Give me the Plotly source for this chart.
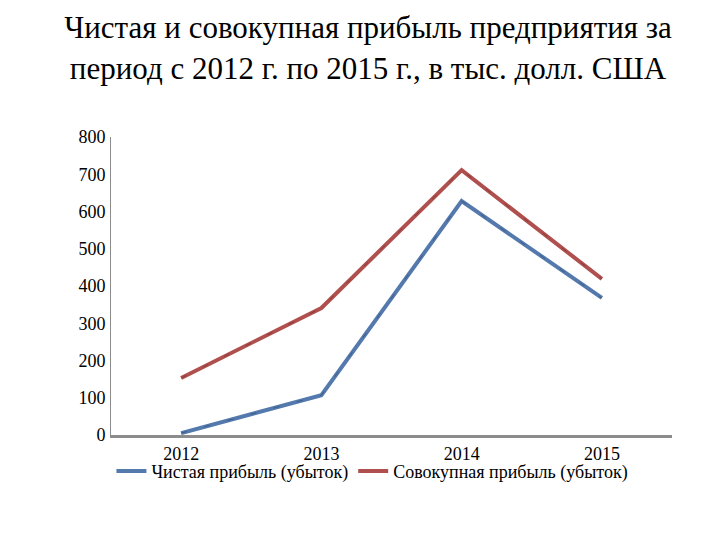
import plotly.graph_objects as go

years = ['2012', '2013', '2014', '2015']
net_profit = [5, 107, 628, 368]
total_profit = [153, 341, 711, 419]
y_ticks = [0, 100, 200, 300, 400, 500, 600, 700, 800]

FONT = 'Liberation Serif'
BLUE = '#5479ad'
RED = '#b0504e'

fig = go.Figure()

series = [
    ('Чистая прибыль (убыток)', net_profit, BLUE, '#2f4a70'),
    ('Совокупная прибыль (убыток)', total_profit, RED, '#6e2c2b'),
]
for name, vals, col, dark in series:
    fig.add_trace(go.Scatter(
        x=years, y=vals, name=name, mode='lines',
        line=dict(color=col, width=4)
    ))
    # thin dark dashes on top, like the shadowed Excel line
    fig.add_trace(go.Scatter(
        x=years, y=vals, mode='lines', showlegend=False, hoverinfo='skip',
        line=dict(color=dark, width=1, dash='6px,18px'), opacity=0.6
    ))

fig.update_layout(
    width=720, height=540,
    paper_bgcolor='white', plot_bgcolor='white',
    margin=dict(l=103, r=56, t=129, b=113),
    font=dict(family=FONT, size=18, color='black'),
    title=dict(
        text='Чистая и совокупная прибыль предприятия за<br>период с 2012 г. по 2015 г., в тыс. долл. США',
        x=0.5, xanchor='center', y=0.944, yanchor='top',
        font=dict(family=FONT, size=31, color='black')
    ),
    showlegend=True,
    legend=dict(
        orientation='h', x=0.466, xanchor='center', y=-0.06, yanchor='top',
        bgcolor='rgba(0,0,0,0)',
        font=dict(family=FONT, size=18, color='black'), itemwidth=30, tracegroupgap=0
    ),
    xaxis=dict(
        type='category', range=[-0.5, 3.5], showgrid=False,
        showline=True, linecolor='#8c8c8c', linewidth=3,
        ticks='', tickfont=dict(family=FONT, size=18, color='black')
    ),
    yaxis=dict(
        range=[0, 800], tickvals=y_ticks, showgrid=False, zeroline=False,
        showline=True, linecolor='#8c8c8c', linewidth=1,
        ticks='', tickfont=dict(family=FONT, size=18, color='black'),
        ticklabelstandoff=1
    ),
)

fig.write_html('out.html')
